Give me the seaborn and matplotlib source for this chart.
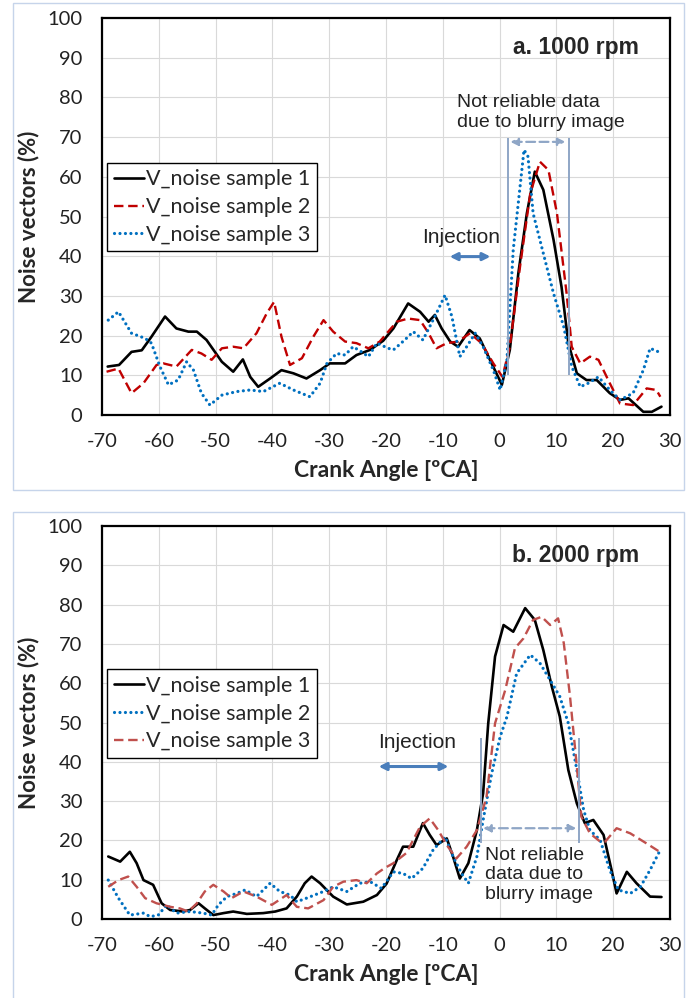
import matplotlib
matplotlib.use("Agg")
import matplotlib.pyplot as plt
from matplotlib.patches import Rectangle
import seaborn as sns
import pandas as pd

# ---------------- data ----------------
# Panel a: 1000 rpm
a_s1_x = [-69, -67, -64.8, -63, -61.3, -58.9, -56.9, -54.8, -53.3, -51.6, -48.9, -46.9, -45.2, -43.9, -42.5,
          -40.4, -38.4, -36.3, -34, -31.6, -29.9, -27.2, -25.2, -22.8, -20.5, -18.7, -16.1, -14, -12.5, -11.4,
          -10.2, -8.7, -7.3, -5.3, -3.5, -1.4, 0.4, 1.8, 3.3, 4.8, 6.2, 7.7, 9.5, 10.9, 12.1, 13.6, 15.3, 17.1,
          19.4, 21.2, 22.7, 25.3, 26.8, 28.5]
a_s1_y = [12.2, 12.6, 15.9, 16.3, 19.7, 24.8, 21.8, 21.0, 21.0, 18.9, 13.4, 10.9, 14.0, 9.6, 7.1,
          9.2, 11.3, 10.5, 9.2, 11.3, 13.0, 13.0, 15.1, 16.4, 18.7, 21.8, 28.1, 26.0, 23.5, 25.2,
          21.8, 18.5, 17.2, 21.4, 19.3, 13.0, 7.6, 16.4, 35.7, 50.8, 61.3, 56.7, 44.1, 32.3, 18.1, 10.5, 8.8, 8.8,
          5.5, 3.8, 4.2, 0.8, 0.8, 2.1]

a_s2_x = [-69.2, -67.1, -64.8, -62.7, -60.4, -59.2, -56.9, -54.2, -52.5, -50.7, -48.9, -46.9, -45.1, -42.8,
          -41, -39.7, -38.4, -36.9, -34.8, -32.8, -31, -29.3, -27.2, -25.2, -23.1, -21.1, -18.1, -16.1, -14,
          -12.5, -11.1, -9.3, -7.3, -5.2, -3.2, -1.1, 0.5, 1.8, 3.6, 5.4, 7.1, 8.6, 10.1, 11.8, 12.7, 14.2,
          15.9, 17.4, 19.4, 21.2, 23.5, 25.9, 27.6, 28.3]
a_s2_y = [10.9, 11.7, 5.5, 8.0, 12.6, 13.0, 12.2, 16.4, 15.5, 13.9, 16.8, 17.2, 16.8, 20.6,
          25.6, 28.5, 19.7, 12.6, 14.3, 19.7, 23.9, 21.0, 18.5, 18.1, 16.8, 18.5, 23.5, 24.3, 23.9,
          20.6, 16.8, 18.1, 18.5, 20.6, 18.1, 13.0, 9.6, 17.2, 37.4, 55.8, 63.8, 61.7, 50.8, 30.6, 17.2, 13.0,
          14.7, 13.9, 8.0, 2.9, 2.5, 6.7, 6.3, 4.6]

a_s3_x = [-68.9, -67.1, -64.8, -62.4, -61.3, -59.8, -58.3, -56.6, -55.1, -53.9, -52.5, -51, -48.9, -46.3,
          -43.9, -41.6, -38.7, -36.3, -33.4, -31.6, -30.4, -28.7, -27.2, -25.8, -24.3, -23.1, -21.6, -19.6,
          -18.7, -16.7, -15.2, -13.5, -11.4, -9.6, -8.4, -7, -5.8, -4.3, -2.9, -1.1, 0.1, 1.3, 2.4, 3.6, 4.3,
          5, 5.9, 7.7, 9.5, 11.3, 12.7, 14.2, 15.6, 17.4, 19.4, 21.2, 23.5, 25.3, 26.5, 28]
a_s3_y = [23.9, 26.0, 20.6, 19.3, 18.1, 12.2, 7.6, 8.8, 13.4, 11.3, 5.5, 2.5, 5.0, 5.9,
          6.3, 5.9, 8.0, 6.3, 4.6, 8.0, 13.0, 15.5, 15.1, 17.2, 15.9, 14.7, 18.1, 16.8,
          16.4, 18.9, 21.0, 18.9, 24.8, 30.2, 24.8, 14.7, 17.2, 20.6, 17.2, 11.3, 6.3, 13.9, 41.6, 57.5, 66.8,
          65.1, 50.8, 40.7, 30.6, 22.2, 12.2, 7.1, 8.0, 9.6, 6.3, 3.8, 5.5, 11.3, 16.8, 15.9]

# Panel b: 2000 rpm
b_s1_x = [-68.9, -66.8, -65.1, -63.9, -62.7, -61, -59.5, -58, -55.7, -54.5, -53, -51.9, -50.4, -48.6, -46.9,
          -44.5, -41.6, -39.5, -37.5, -35.7, -34.3, -33.1, -31.6, -29.3, -26.9, -24, -21.6, -19.9, -18.1, -17,
          -15.2, -13.5, -12.3, -11.1, -9.3, -8.2, -7, -5.5, -4, -2.9, -2, -0.8, 0.7, 2.4, 4.5, 6.2, 7.7, 9.2,
          10.6, 12.1, 13.6, 15, 16.5, 18.3, 19.7, 20.6, 22.4, 24.1, 26.5, 28.5]
b_s1_y = [15.9, 14.6, 17.1, 14.2, 9.9, 8.7, 4.0, 2.3, 1.9, 2.3, 4.0, 2.7, 1.0, 1.5, 1.9,
          1.3, 1.5, 1.9, 2.7, 5.7, 9.1, 10.8, 9.1, 5.7, 3.7, 4.4, 6.1, 9.0, 15.0, 18.4,
          18.4, 24.4, 21.4, 18.8, 20.5, 15.9, 10.3, 14.2, 22.6, 32.0, 49.8, 66.8, 74.8, 73.1, 79.1, 76.1, 68.4, 59.1,
          51.5, 37.9, 29.4, 24.4, 25.2, 21.4, 12.5, 6.5, 12.0, 9.1, 5.7, 5.6]

b_s2_x = [-68.9, -67.1, -65.1, -62.7, -61.5, -60.1, -58.6, -56.9, -54.5, -52.2, -50.7, -49.5, -48, -46.3,
          -44.8, -42.8, -40.4, -38.7, -36.9, -35.7, -34, -31, -29.3, -26.9, -24.6, -22.8, -20.8, -18.7, -17,
          -15.5, -13.5, -11.7, -9.6, -8.2, -6.7, -5.5, -4, -2.9, -1.4, 0.1, 1.3, 3, 5.4, 7.1, 8.9, 10.6, 12.1,
          13.6, 14.8, 15.9, 17.7, 19.4, 20.9, 23, 24.8, 26.5, 28.3]
b_s2_y = [9.9, 5.3, 1.0, 1.5, 0.6, 1.0, 3.6, 1.5, 1.9, 1.5, 1.0, 3.6, 5.7, 6.5,
          7.4, 5.7, 9.1, 7.0, 6.1, 4.4, 5.3, 7.0, 8.2, 7.0, 9.1, 9.5, 7.8, 12.0, 11.6,
          10.3, 12.9, 17.6, 20.9, 15.9, 11.6, 9.1, 15.9, 25.2, 37.0, 46.4, 51.5, 62.5, 67.2, 65.1, 60.8, 56.6, 49.8,
          37.9, 27.7, 22.6, 20.1, 12.5, 7.4, 6.5, 8.2, 12.5, 17.6]

b_s3_x = [-68.9, -67.1, -65.4, -63.9, -62.4, -60.4, -58, -56.3, -54.8, -53.3, -51.9, -50.4, -48.6, -47.2,
          -45.1, -42.8, -40.1, -37.5, -35.7, -33.7, -31, -29.3, -27.5, -25.2, -23.4, -21.6, -20.2, -18.7,
          -16.4, -14, -12.3, -10.8, -9.3, -7.6, -5.8, -4, -2.3, -0.8, 1, 2.7, 4.2, 5.9, 7.4, 8.9, 10.3, 11.3,
          12.4, 13.6, 14.4, 15.9, 17.7, 18.6, 20.6, 23, 25.9, 28.5]
b_s3_y = [8.2, 9.9, 10.8, 8.2, 5.3, 4.0, 3.1, 2.7, 1.9, 4.0, 7.0, 8.7, 7.0, 5.3,
          7.0, 5.7, 3.6, 6.1, 3.1, 2.7, 4.8, 8.2, 9.5, 9.9, 9.1, 11.6, 13.0, 14.2,
          16.8, 23.5, 25.6, 22.6, 18.8, 15.4, 18.4, 22.6, 31.1, 49.8, 58.3, 68.9, 71.4, 76.1, 76.9, 74.8, 76.5, 70.2,
          56.6, 38.8, 26.0, 21.8, 19.7, 19.7, 23.1, 21.8, 19.2, 16.8]

x_ticks = [-70, -60, -50, -40, -30, -20, -10, 0, 10, 20, 30]
y_ticks = [0, 10, 20, 30, 40, 50, 60, 70, 80, 90, 100]
labels = ["V_noise sample 1", "V_noise sample 2", "V_noise sample 3"]
titles = ["a. 1000 rpm", "b. 2000 rpm"]

# ---------------- style ----------------
sns.set_style("white")
plt.rcParams["font.family"] = ["Lato", "DejaVu Sans"]
plt.rcParams["axes.unicode_minus"] = False

W, H = 693, 998
fig = plt.figure(figsize=(W / 100, H / 100), dpi=100)

frame_col = "#c6d4ea"
fig.patches.append(Rectangle((13 / W, 1 - 490 / H), 671 / W, 487 / H, transform=fig.transFigure,
                             fill=False, edgecolor=frame_col, lw=1.0))
fig.patches.append(Rectangle((13 / W, -0.01), 671 / W, 1 - 512 / H + 0.01, transform=fig.transFigure,
                             fill=False, edgecolor=frame_col, lw=1.0))

ax_a = fig.add_axes([102 / W, 1 - 415 / H, 568 / W, 397 / H])
ax_b = fig.add_axes([102 / W, 1 - 919 / H, 568 / W, 393 / H])

black = "#000000"
red_a = "#c00000"
blue = "#0070c0"
red_b = "#c0504d"
dotted = (0, (0.01, 1.7))
dashed = (0, (4.0, 2.0))


def line(ax, xs, ys, color, ls, lw, label):
    df = pd.DataFrame({"x": xs, "y": ys})
    sns.lineplot(data=df, x="x", y="y", ax=ax, color=color, lw=lw, label=label,
                 estimator=None, sort=False)
    ln = ax.get_lines()[-1]
    ln.set_linestyle(ls)
    ln.set_dash_capstyle("round" if ls is dotted else "butt")
    ln.set_dash_joinstyle("round")
    ln.set_solid_joinstyle("round")


line(ax_a, a_s1_x, a_s1_y, black, "-", 1.9, labels[0])
line(ax_a, a_s2_x, a_s2_y, red_a, dashed, 1.7, labels[1])
line(ax_a, a_s3_x, a_s3_y, blue, dotted, 2.3, labels[2])

line(ax_b, b_s1_x, b_s1_y, black, "-", 1.9, labels[0])
line(ax_b, b_s2_x, b_s2_y, blue, dotted, 2.3, labels[1])
line(ax_b, b_s3_x, b_s3_y, red_b, dashed, 1.7, labels[2])

for ax, title in zip([ax_a, ax_b], titles):
    ax.set_xlim(-70, 30)
    ax.set_ylim(0, 100)
    ax.set_xticks(x_ticks)
    ax.set_yticks(y_ticks)
    ax.grid(True, color="#d9d9d9", lw=0.8)
    ax.set_axisbelow(True)
    for s in ax.spines.values():
        s.set_color("black")
        s.set_linewidth(1.6)
        s.set_visible(True)
    ax.tick_params(axis="both", direction="out", length=6, width=1.5, colors="black",
                   labelsize=14.5, labelcolor="#222222")
    ax.tick_params(axis="x", pad=7)
    ax.tick_params(axis="y", pad=8)
    ax.set_xlabel("Crank Angle [ºCA]", fontsize=16.5, fontweight="bold", labelpad=7)
    ax.set_ylabel("Noise vectors (%)", fontsize=16, fontweight="bold", labelpad=6)
    ax.text(0.945, 0.925, title, transform=ax.transAxes, ha="right", va="center",
            fontsize=16.5, fontweight="bold", family=["Liberation Sans", "DejaVu Sans"])
    leg = ax.legend(loc="upper left", bbox_to_anchor=(0.009, 0.635), borderaxespad=0,
                    fontsize=15.5, frameon=True, fancybox=False, edgecolor="black",
                    handlelength=1.4, handletextpad=0.12, labelspacing=0.36, borderpad=0.3)
    leg.get_frame().set_linewidth(1.0)
    leg.get_frame().set_alpha(1)

arrow_blue = "#4a7ebb"
gray = "#8fa6c6"
arial = ["Liberation Sans", "DejaVu Sans"]

# Panel a annotations
ax_a.text(-6.8, 44.6, "Injection", ha="center", va="center", fontsize=15, family=arial, color="#222222")
ax_a.annotate("", xy=(-1.6, 39.9), xytext=(-8.8, 39.9),
              arrowprops=dict(arrowstyle="<|-|>", color=arrow_blue, lw=2.2, mutation_scale=11,
                              shrinkA=0, shrinkB=0))
ax_a.vlines([1.4, 12.2], 10.0, 69.8, colors=gray, lw=1.4)
ax_a.annotate("", xy=(11.6, 68.8), xytext=(1.9, 68.8),
              arrowprops=dict(arrowstyle="<|-|>", color=gray, lw=1.6, ls=(0, (4, 2)),
                              mutation_scale=11, shrinkA=0, shrinkB=0))
ax_a.text(-7.5, 76.2, "Not reliable data\ndue to blurry image", ha="left", va="center",
          fontsize=14, family=arial, color="#222222", linespacing=1.22)

# Panel b annotations
ax_b.text(-14.5, 45.0, "Injection", ha="center", va="center", fontsize=15, family=arial, color="#222222")
ax_b.annotate("", xy=(-9.0, 38.8), xytext=(-21.3, 38.8),
              arrowprops=dict(arrowstyle="<|-|>", color=arrow_blue, lw=2.2, mutation_scale=11,
                              shrinkA=0, shrinkB=0))
ax_b.vlines([-3.2, 14.0], 19.3, 46.0, colors=gray, lw=1.4)
ax_b.annotate("", xy=(13.5, 23.1), xytext=(-2.9, 23.1),
              arrowprops=dict(arrowstyle="<|-|>", color=gray, lw=1.6, ls=(0, (4, 2)),
                              mutation_scale=11, shrinkA=0, shrinkB=0))
ax_b.text(-2.6, 11.2, "Not reliable\ndata due to\nblurry image", ha="left", va="center",
          fontsize=14, family=arial, color="#222222", linespacing=1.2)

fig.savefig("out.png", dpi=100)
